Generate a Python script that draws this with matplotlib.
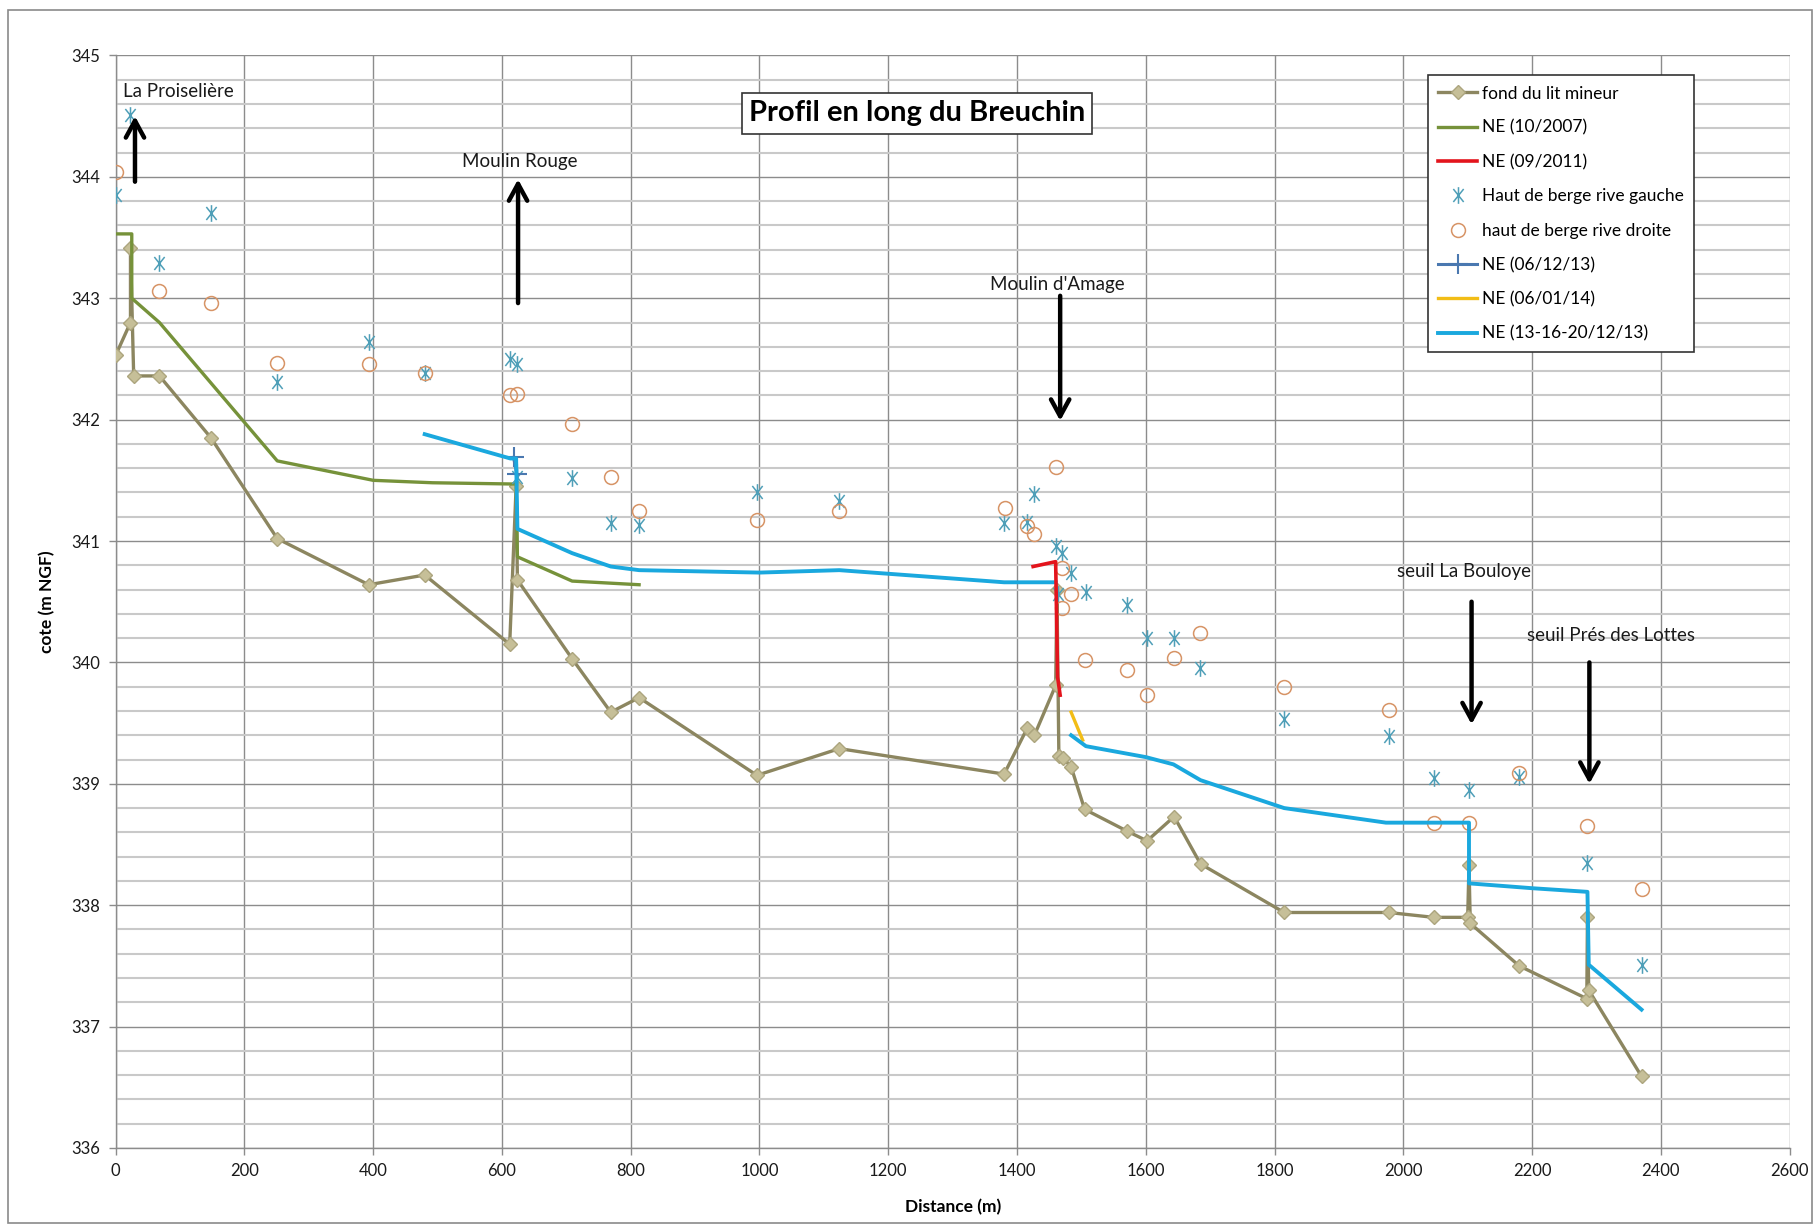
import numpy as np
import matplotlib
matplotlib.use("Agg")
import matplotlib.pyplot as plt
from matplotlib.path import Path
from matplotlib.patches import Rectangle
from matplotlib.ticker import MultipleLocator

plt.rcParams["font.family"] = ["Lato", "DejaVu Sans"]

# --- Long profile data (distance in m, elevation in m NGF) ---
fond_x = [0, 23, 23, 28, 68, 148, 251, 393, 480, 612, 622, 624, 709, 769, 813,
          996, 1124, 1380, 1416, 1427, 1460, 1462, 1465, 1472, 1484, 1505, 1571,
          1602, 1644, 1685, 1815, 1977, 2047, 2100, 2102, 2104, 2180, 2285, 2286,
          2288, 2370]
fond_y = [342.53, 342.80, 343.41, 342.36, 342.36, 341.85, 341.02, 340.64, 340.72,
          340.15, 341.45, 340.68, 340.03, 339.59, 339.71, 339.07, 339.29, 339.08,
          339.46, 339.40, 339.81, 340.60, 339.23, 339.21, 339.14, 338.79, 338.61,
          338.53, 338.73, 338.34, 337.94, 337.94, 337.90, 337.90, 338.33, 337.85,
          337.50, 337.23, 337.90, 337.30, 336.59]

ne2007_x = [0, 25, 25, 68, 251, 400, 492, 613, 622, 624, 709, 813]
ne2007_y = [343.53, 343.53, 343.00, 342.80, 341.66, 341.50, 341.48, 341.47,
            341.47, 340.87, 340.67, 340.64]

ne2011_x = [1425, 1460, 1463, 1467]
ne2011_y = [340.79, 340.83, 339.88, 339.73]

rg_x = [0, 23, 68, 148, 251, 393, 480, 612, 624, 624, 709, 769, 813, 996, 1124,
        1380, 1415, 1427, 1460, 1470, 1484, 1463, 1507, 1571, 1602, 1644, 1684,
        1815, 1977, 2047, 2102, 2180, 2286, 2370]
rg_y = [343.85, 344.51, 343.29, 343.70, 342.31, 342.64, 342.38, 342.50, 342.46,
        341.53, 341.52, 341.15, 341.13, 341.40, 341.33, 341.15, 341.16, 341.39,
        340.96, 340.90, 340.74, 340.56, 340.58, 340.47, 340.20, 340.20, 339.95,
        339.53, 339.39, 339.05, 338.95, 339.06, 338.35, 337.51]

rd_x = [0, 68, 148, 251, 393, 480, 612, 624, 709, 769, 813, 996, 1124, 1382, 1415,
        1427, 1461, 1470, 1484, 1470, 1505, 1571, 1602, 1644, 1684, 1815, 1977,
        2047, 2102, 2180, 2286, 2370]
rd_y = [344.04, 343.06, 342.96, 342.47, 342.46, 342.38, 342.20, 342.21, 341.96,
        341.53, 341.25, 341.17, 341.25, 341.27, 341.12, 341.06, 341.61, 340.78,
        340.56, 340.45, 340.02, 339.94, 339.73, 340.04, 340.24, 339.80, 339.61,
        338.68, 338.68, 339.09, 338.65, 338.13]

ne061213_x = [618, 623]
ne061213_y = [341.69, 341.55]

ne060114_x = [1484, 1502]
ne060114_y = [339.59, 339.36]

ne1312_x = [480, 613, 622, 624, 709, 769, 813, 1000, 1124, 1380, 1460, np.nan,
            1484, 1507, 1600, 1643, 1685, 1815, 1973, 2102, 2102, 2200, 2286,
            2288, 2370]
ne1312_y = [341.88, 341.68, 341.68, 341.10, 340.90, 340.79, 340.76, 340.74,
            340.76, 340.66, 340.66, np.nan, 339.40, 339.31, 339.22, 339.16,
            339.03, 338.80, 338.68, 338.68, 338.18, 338.14, 338.11, 337.51, 337.14]

series_labels = ["fond du lit mineur", "NE (10/2007)", "NE (09/2011)",
                 "Haut de berge rive gauche", "haut de berge rive droite",
                 "NE (06/12/13)", "NE (06/01/14)", "NE (13-16-20/12/13)"]

# Site annotations: label, arrow x, arrow tail y, arrow head y, text x, text y
site_labels = ["La Proiselière", "Moulin Rouge", "Moulin d'Amage",
               "seuil La Bouloye", "seuil Prés des Lottes"]
site_arrow_x = [30, 625, 1467, 2106, 2289]
site_tail_y = [343.96, 342.96, 343.02, 340.50, 340.00]
site_head_y = [344.50, 343.98, 341.99, 339.49, 339.00]
site_text_x = [12, 627, 1463, 2095, 2322]
site_text_y = [344.70, 344.13, 343.11, 340.75, 340.22]
site_text_ha = ["left", "center", "center", "center", "center"]

title = "Profil en long du Breuchin"

# --- Figure ---
fig = plt.figure(figsize=(18.13, 12.24), dpi=100)
ax = fig.add_axes([0.0638, 0.0621, 0.9233, 0.8926])

# Outer chart frame
fig.patches.append(Rectangle((8 / 1813, 1 / 1224), 1 - 9 / 1813, 1 - 11 / 1224,
                             transform=fig.transFigure, fill=False,
                             edgecolor="#8a8a8a", lw=1.2))

ax.set_xlim(0, 2600)
ax.set_ylim(336, 345)
ax.xaxis.set_major_locator(MultipleLocator(200))
ax.yaxis.set_major_locator(MultipleLocator(1))
ax.yaxis.set_minor_locator(MultipleLocator(0.2))
ax.grid(which="major", axis="both", color="#8c8c8c", lw=1.0)
ax.grid(which="minor", axis="y", color="#c9c9c9", lw=1.5)
ax.set_axisbelow(True)
for side in ["top", "right"]:
    ax.spines[side].set_visible(False)
for side in ["left", "bottom"]:
    ax.spines[side].set_color("#8c8c8c")
    ax.spines[side].set_linewidth(1.0)
ax.tick_params(axis="both", which="major", labelsize=12, colors="#8c8c8c",
               labelcolor="#1a1a1a", length=5, width=1, direction="out", pad=6)
ax.tick_params(axis="y", which="minor", length=0)

ax.set_xlabel("Distance (m)", fontsize=12.5, fontweight="bold", labelpad=14)
ax.set_ylabel("cote (m NGF)", fontsize=12.5, fontweight="bold", labelpad=12)

star_marker = Path([(0, -1), (0, 1), (-0.62, -0.78), (0.62, 0.78),
                    (-0.62, 0.78), (0.62, -0.78)],
                   [Path.MOVETO, Path.LINETO] * 3)

ax.plot(fond_x, fond_y, color="#8c8660", lw=2.4, marker="D", markersize=7,
        markerfacecolor="#c6bf98", markeredgecolor="#aca57e",
        label=series_labels[0], zorder=3)
ax.plot(ne2007_x, ne2007_y, color="#76923a", lw=2.4, label=series_labels[1],
        zorder=3)
ax.plot(ne2011_x, ne2011_y, color="#e3141c", lw=2.6, label=series_labels[2],
        zorder=5)
ax.plot(rg_x, rg_y, ls="none", marker=star_marker, markersize=12,
        markeredgecolor="#4f9fb8", markeredgewidth=1.1, label=series_labels[3],
        zorder=4)
ax.plot(rd_x, rd_y, ls="none", marker="o", markersize=10, markerfacecolor="none",
        markeredgecolor="#d79466", markeredgewidth=1.1, label=series_labels[4],
        zorder=4)
ax.plot(ne061213_x, ne061213_y, color="#4a78b0", lw=2.2, marker="+",
        markersize=14, markeredgewidth=1.5, label=series_labels[5], zorder=4)
ax.plot(ne060114_x, ne060114_y, color="#f2bd16", lw=2.4, label=series_labels[6],
        zorder=4)
ax.plot(ne1312_x, ne1312_y, color="#1aa8de", lw=2.8, label=series_labels[7],
        zorder=4)

# Site arrows and labels
for lab, ax_x, ty, hy, tx, tyt, ha in zip(site_labels, site_arrow_x, site_tail_y,
                                          site_head_y, site_text_x, site_text_y,
                                          site_text_ha):
    ax.annotate("", xy=(ax_x, hy), xytext=(ax_x, ty),
                arrowprops=dict(arrowstyle="->,head_length=0.55,head_width=0.3",
                                color="black", lw=3.2, mutation_scale=22,
                                shrinkA=0, shrinkB=0), zorder=6)
    ax.text(tx, tyt, lab, ha=ha, va="center", fontsize=13.5, color="#1a1a1a",
            zorder=6)

# Title box
ax.text(0.4787, 0.947, title, transform=ax.transAxes, ha="center", va="center",
        fontsize=21, fontweight="bold", color="black", zorder=7,
        bbox=dict(boxstyle="square,pad=0.25", facecolor="white",
                  edgecolor="#333333", lw=1.2))

leg = ax.legend(loc="upper left", bbox_to_anchor=(0.784, 0.982), fontsize=12.5,
                frameon=True, fancybox=False, framealpha=1, edgecolor="#333333",
                handlelength=2.2, handletextpad=0.3, labelspacing=1.05,
                borderpad=0.6, borderaxespad=0)
leg.get_frame().set_linewidth(1.2)
leg.set_zorder(8)

fig.savefig("out.png", dpi=100, facecolor="white")
